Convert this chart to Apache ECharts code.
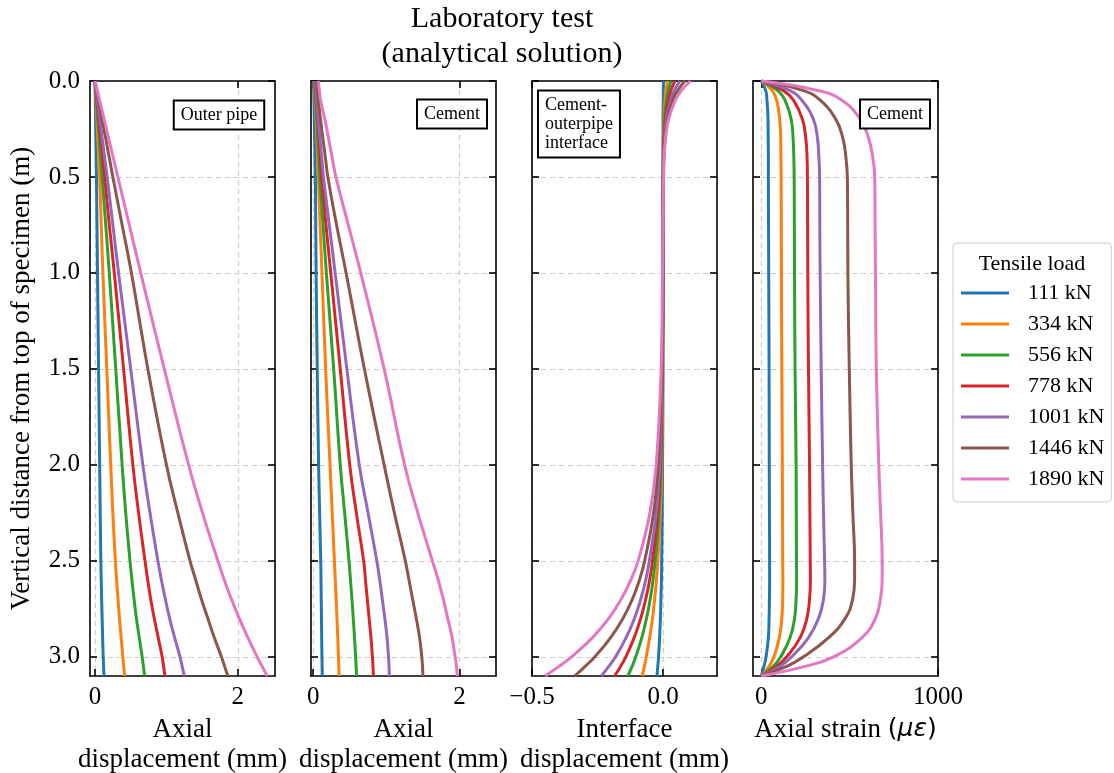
<!DOCTYPE html>
<html>
<head>
<meta charset="utf-8">
<script src="https://cdn.jsdelivr.net/npm/echarts@6/dist/echarts.min.js"></script>
<style>
  html, body { margin: 0; padding: 0; background: #fff; }
  #chart { width: 1114px; height: 773px; }
</style>
</head>
<body>
<div id="chart"></div>
<script>
// depth below top of specimen (m), shared by every curve
const depth = [0, 0.05, 0.1, 0.2, 0.3, 0.4, 0.5, 0.75, 1.0, 1.5, 2.0, 2.25, 2.5, 2.6, 2.7, 2.8, 2.9, 3.0, 3.05, 3.1];
const loads = ['111 kN', '334 kN', '556 kN', '778 kN', '1001 kN', '1446 kN', '1890 kN'];

// outer pipe axial displacement (mm), one row per load
const outerPipeDisp = [
  [0, 0.002, 0.004, 0.008, 0.012, 0.016, 0.02, 0.028, 0.035, 0.05, 0.065, 0.073, 0.082, 0.087, 0.093, 0.1, 0.107, 0.115, 0.12, 0.126],
  [0, 0.006, 0.013, 0.026, 0.039, 0.052, 0.065, 0.088, 0.11, 0.165, 0.22, 0.25, 0.285, 0.303, 0.322, 0.343, 0.366, 0.39, 0.402, 0.415],
  [0, 0.01, 0.02, 0.04, 0.06, 0.08, 0.1, 0.15, 0.2, 0.29, 0.38, 0.43, 0.49, 0.517, 0.547, 0.58, 0.62, 0.66, 0.678, 0.695],
  [0, 0.0135, 0.027, 0.054, 0.081, 0.108, 0.135, 0.2, 0.27, 0.4, 0.53, 0.61, 0.7, 0.738, 0.78, 0.83, 0.885, 0.94, 0.96, 0.98],
  [0, 0.017, 0.034, 0.068, 0.102, 0.136, 0.17, 0.25, 0.33, 0.5, 0.67, 0.77, 0.88, 0.93, 0.985, 1.045, 1.115, 1.19, 1.22, 1.25],
  [0, 0.025, 0.05, 0.1, 0.15, 0.2, 0.25, 0.38, 0.51, 0.74, 1.0, 1.16, 1.33, 1.41, 1.49, 1.58, 1.67, 1.77, 1.815, 1.86],
  [0, 0.032, 0.064, 0.128, 0.192, 0.256, 0.32, 0.48, 0.64, 0.97, 1.31, 1.505, 1.72, 1.81, 1.91, 2.02, 2.14, 2.27, 2.34, 2.41]
];

// cement axial displacement (mm)
const cementDisp = [
  [0.005, 0.007, 0.01, 0.015, 0.02, 0.025, 0.03, 0.035, 0.04, 0.055, 0.074, 0.088, 0.103, 0.107, 0.11, 0.113, 0.116, 0.12, 0.122, 0.124],
  [0.015, 0.02, 0.026, 0.04, 0.05, 0.06, 0.07, 0.095, 0.12, 0.17, 0.23, 0.26, 0.29, 0.302, 0.314, 0.325, 0.336, 0.345, 0.35, 0.354],
  [0.02, 0.027, 0.034, 0.05, 0.063, 0.077, 0.09, 0.135, 0.18, 0.28, 0.37, 0.43, 0.49, 0.51, 0.53, 0.548, 0.565, 0.58, 0.587, 0.593],
  [0.025, 0.033, 0.042, 0.06, 0.078, 0.097, 0.115, 0.175, 0.24, 0.37, 0.5, 0.59, 0.69, 0.715, 0.74, 0.765, 0.79, 0.81, 0.818, 0.823],
  [0.03, 0.04, 0.05, 0.07, 0.093, 0.117, 0.14, 0.22, 0.3, 0.46, 0.63, 0.75, 0.87, 0.91, 0.945, 0.98, 1.01, 1.03, 1.037, 1.04],
  [0.04, 0.055, 0.07, 0.1, 0.133, 0.167, 0.2, 0.32, 0.45, 0.7, 0.97, 1.11, 1.26, 1.31, 1.36, 1.41, 1.455, 1.485, 1.495, 1.5],
  [0.07, 0.085, 0.1, 0.16, 0.21, 0.26, 0.31, 0.48, 0.65, 0.97, 1.25, 1.43, 1.63, 1.71, 1.78, 1.84, 1.9, 1.94, 1.96, 1.97]
];

// cement-outer pipe interface displacement (mm)
const interfaceDisp = [
  [0.002, 0.001, 0.001, 0, 0, 0, 0, 0, 0, 0, -0.002, -0.003, -0.005, -0.006, -0.008, -0.01, -0.013, -0.017, -0.02, -0.023],
  [0.017, 0.011, 0.0077, 0.0034, 0.0015, 0, 0, 0, 0, -0.001, -0.005, -0.01, -0.02, -0.025, -0.032, -0.04, -0.051, -0.064, -0.071, -0.08],
  [0.03, 0.02, 0.0135, 0.006, 0.003, 0.001, 0, 0, 0, -0.002, -0.008, -0.015, -0.03, -0.038, -0.049, -0.063, -0.081, -0.104, -0.118, -0.134],
  [0.045, 0.03, 0.02, 0.009, 0.004, 0.002, 0.001, 0, 0, -0.003, -0.01, -0.02, -0.04, -0.051, -0.066, -0.085, -0.11, -0.142, -0.162, -0.185],
  [0.064, 0.043, 0.029, 0.013, 0.006, 0.0025, 0.001, 0, 0, -0.004, -0.013, -0.026, -0.052, -0.066, -0.085, -0.109, -0.141, -0.181, -0.207, -0.235],
  [0.083, 0.056, 0.037, 0.017, 0.0075, 0.003, 0.0015, 0, 0, -0.005, -0.019, -0.036, -0.07, -0.09, -0.117, -0.153, -0.2, -0.26, -0.297, -0.337],
  [0.105, 0.07, 0.047, 0.021, 0.0095, 0.004, 0.002, 0, -0.002, -0.007, -0.026, -0.05, -0.095, -0.123, -0.16, -0.207, -0.269, -0.349, -0.397, -0.45]
];

// cement axial strain (micro strain)
const cementStrain = [
  [0, 25, 32, 38, 39, 40, 40, 41, 42, 44, 45, 46, 47, 47, 46, 44, 40, 27, 15, 0],
  [0, 62, 87, 104, 110, 111, 112, 113, 114, 116, 119, 120, 121, 122, 121, 116, 102, 72, 44, 0],
  [0, 93, 134, 169, 180, 184, 186, 187, 188, 191, 197, 198, 199, 200, 197, 188, 163, 110, 68, 0],
  [0, 125, 182, 233, 252, 259, 261, 262, 263, 267, 273, 275, 277, 278, 273, 258, 220, 144, 87, 0],
  [0, 163, 229, 295, 318, 326, 330, 331, 333, 339, 347, 352, 358, 360, 352, 324, 267, 172, 106, 0],
  [0, 239, 333, 422, 462, 479, 487, 489, 490, 498, 509, 518, 528, 528, 517, 475, 381, 239, 144, 0],
  [0, 324, 456, 561, 608, 631, 642, 644, 646, 651, 665, 675, 684, 684, 674, 646, 570, 409, 248, 0]
];

const yTickValues = [0, 0.5, 1.0, 1.5, 2.0, 2.5, 3.0];
const xTickValues = [[0, 2], [0, 2], [-0.5, 0], [0, 1000]];
const xRanges = [[-0.07, 2.52], [-0.03, 2.5], [-0.5, 0.206], [-47, 1000]];
const xNames = ['Axial\ndisplacement (mm)', 'Axial\ndisplacement (mm)', 'Interface\ndisplacement (mm)',
  'Axial strain {p|(}{m|με}{p|)}'];
const panelData = [outerPipeDisp, cementDisp, interfaceDisp, cementStrain];
const colors = ['#1f77b4', '#ff7f0e', '#2ca02c', '#d62728', '#9467bd', '#8c564b', '#e377c2'];

const serif = 'Liberation Serif';
const gridLefts = [90, 311, 532, 753];

function fmtX(p, v) {
  if (p === 2) return (v < 0 ? '\u2212' : '') + Math.abs(v).toFixed(1);
  return String(v);
}

const grids = [], xAxes = [], yAxes = [], series = [];
const tickStyle = { color: '#000', width: 1.6 };
const splitStyle = { type: [5, 4], color: '#cccccc', width: 1.2 };

gridLefts.forEach((left, p) => {
  grids.push({ left: left, top: 81, width: 185, height: 595, containLabel: false, outerBoundsMode: 'none' });
  ['bottom', 'top'].forEach(pos => {
    const main = pos === 'bottom';
    xAxes.push({
      type: 'value', gridIndex: p, position: pos,
      min: xRanges[p][0], max: xRanges[p][1],
      axisLine: { show: true, onZero: false, lineStyle: tickStyle },
      axisTick: { show: true, inside: true, length: 7, customValues: xTickValues[p], lineStyle: tickStyle },
      axisLabel: { show: main, customValues: xTickValues[p], margin: 9, formatter: v => fmtX(p, v),
        fontFamily: serif, fontSize: 25, color: '#000' },
      splitLine: { show: main, lineStyle: splitStyle },
      name: main ? xNames[p] : '',
      nameLocation: 'middle', nameGap: 37,
      nameTextStyle: {
        fontFamily: serif, fontSize: 27, lineHeight: 30, color: '#000',
        rich: {
          p: { fontFamily: 'DejaVu Sans', fontSize: 25, color: '#000' },
          m: { fontFamily: 'DejaVu Sans', fontStyle: 'italic', fontSize: 25, color: '#000' }
        }
      }
    });
  });
  ['left', 'right'].forEach(pos => {
    const main = pos === 'left';
    yAxes.push({
      type: 'value', gridIndex: p, position: pos, inverse: true,
      min: 0, max: 3.1,
      axisLine: { show: true, onZero: false, lineStyle: tickStyle },
      axisTick: { show: true, inside: true, length: 7, customValues: yTickValues, lineStyle: tickStyle },
      axisLabel: { show: main && p === 0, customValues: yTickValues, margin: 10, formatter: v => v.toFixed(1),
        fontFamily: serif, fontSize: 25, color: '#000' },
      splitLine: { show: main, lineStyle: splitStyle },
      name: main && p === 0 ? 'Vertical distance from top of specimen (m)' : '',
      nameLocation: 'middle', nameGap: 55,
      nameTextStyle: { fontFamily: serif, fontSize: 27, color: '#000' }
    });
  });
  panelData[p].forEach((row, i) => {
    series.push({
      type: 'line', name: loads[i], xAxisIndex: p * 2, yAxisIndex: p * 2,
      data: depth.map((d, k) => [row[k], d]),
      symbol: 'none', smooth: 0.45, color: colors[i],
      lineStyle: { width: 3, color: colors[i] },
      animation: false, clip: true
    });
  });
});

function box(text, x, y, align) {
  return {
    type: 'text', x: x, y: y, z: 100,
    style: {
      text: text, fontFamily: serif, fontSize: 18, lineHeight: 19, fill: '#000',
      align: align || 'center', verticalAlign: 'middle',
      backgroundColor: '#fff', borderColor: '#000', borderWidth: 2, padding: [4, 6, 4, 6]
    }
  };
}

const chart = echarts.init(document.getElementById('chart'));
chart.setOption({
  backgroundColor: '#fff',
  animation: false,
  color: colors,
  grid: grids,
  xAxis: xAxes,
  yAxis: yAxes,
  series: series,
  legend: {
    orient: 'vertical', left: 953, top: 243,
    data: loads,
    icon: 'rect', itemWidth: 48, itemHeight: 3, itemGap: 9,
    padding: [39, 7, 12, 8],
    borderColor: '#cccccc', borderWidth: 1, borderRadius: 4,
    textStyle: { fontFamily: serif, fontSize: 22, lineHeight: 22, color: '#000', padding: [0, 0, 0, 14] }
  },
  graphic: [
    {
      type: 'text', x: 502, y: 2,
      style: { text: 'Laboratory test\n(analytical solution)', fontFamily: serif, fontSize: 30, lineHeight: 35,
        fill: '#000', align: 'center', verticalAlign: 'top' }
    },
    {
      type: 'text', x: 1032, y: 264,
      style: { text: 'Tensile load', fontFamily: serif, fontSize: 22, fill: '#000', align: 'center', verticalAlign: 'middle' }
    },
    box('Outer pipe', 219, 115),
    box('Cement', 452, 114),
    box('Cement-\nouterpipe\ninterface', 539, 124, 'left'),
    box('Cement', 895, 114)
  ]
});
</script>
</body>
</html>
